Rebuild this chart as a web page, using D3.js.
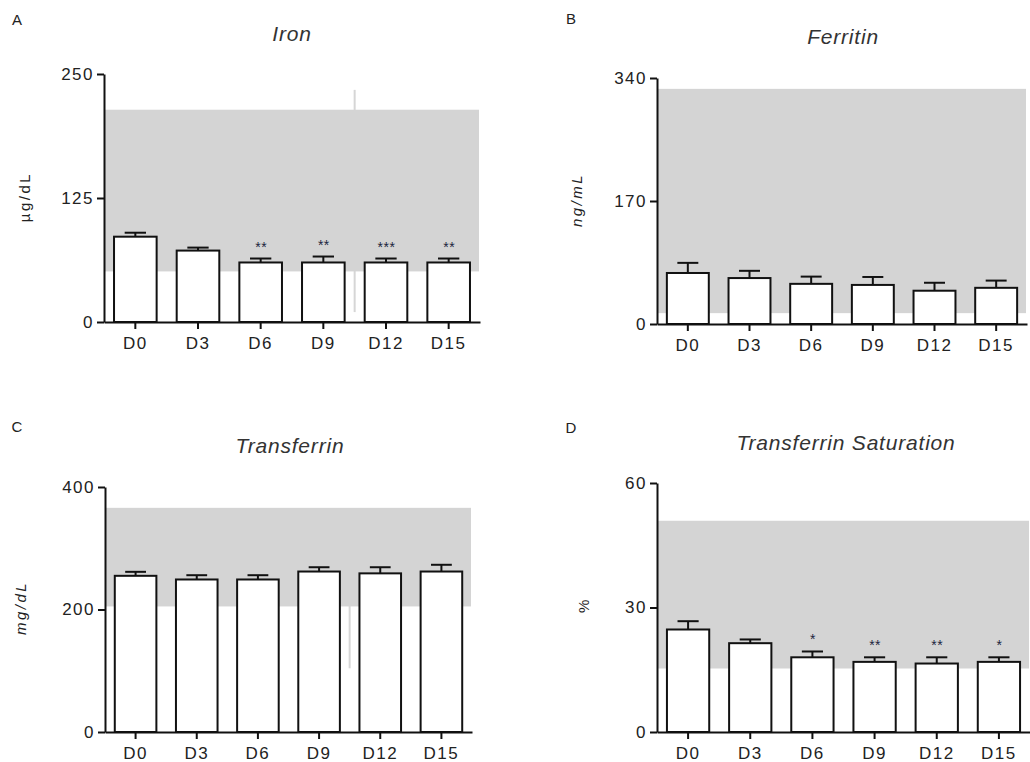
<!DOCTYPE html>
<html>
<head>
<meta charset="utf-8">
<script src="https://cdn.jsdelivr.net/npm/d3@7"></script>
<style>
  body { margin: 0; background: #fff; }
  svg { display: block; font-family: "Liberation Sans", Arial, sans-serif; }
  .tick text { fill: #222; }
</style>
</head>
<body>
<div id="chart"></div>
<script>
// categories (study days)
var days = ["D0", "D3", "D6", "D9", "D12", "D15"];

// A - Iron (µg/dL)
var ironMean = [86, 72, 60, 60, 60, 60];
var ironSem = [4, 3, 4, 6, 4, 4];
var ironRange = [51, 214];
var ironTicks = [0, 125, 250];
var ironStars = ["", "", "**", "**", "***", "**"];
var ironGap = [10, 234];

// B - Ferritin (ng/mL)
var ferMean = [70.5, 63.5, 55.5, 54, 46, 50];
var ferSem = [14, 10, 10, 11, 11, 10];
var ferRange = [15, 325];
var ferTicks = [0, 170, 340];
var ferStars = ["", "", "", "", "", ""];

// C - Transferrin (mg/dL)
var trfMean = [255, 249, 249, 262, 259, 262];
var trfSem = [6.5, 7, 7, 7, 10, 11];
var trfRange = [205, 366];
var trfTicks = [0, 200, 400];
var trfStars = ["", "", "", "", "", ""];
var trfGap = [104, 300];

// D - Transferrin saturation (%)
var tsatMean = [24.7, 21.4, 18.0, 16.9, 16.5, 16.9];
var tsatSem = [2.0, 0.9, 1.4, 1.1, 1.5, 1.1];
var tsatRange = [15.3, 50.9];
var tsatTicks = [0, 30, 60];
var tsatStars = ["", "", "*", "**", "**", "*"];

var svg = d3.select("#chart")
  .append("svg")
  .attr("width", 1030)
  .attr("height", 762);

var panels = [
  { letter: "A", title: "Iron", unit: "µg/dL", unitItalic: false,
    mean: ironMean, sem: ironSem, range: ironRange, ticks: ironTicks, stars: ironStars, gap: ironGap,
    x0: 104, x1: 480, yTop: 74, yBot: 322,
    titleXY: [292, 40.5], letterXY: [17, 24.5], unitXY: [24, 197] },
  { letter: "B", title: "Ferritin", unit: "ng/mL", unitItalic: true,
    mean: ferMean, sem: ferSem, range: ferRange, ticks: ferTicks, stars: ferStars, gap: null,
    x0: 657, x1: 1027, yTop: 78, yBot: 324,
    titleXY: [843, 44], letterXY: [571, 23.5], unitXY: [576, 200] },
  { letter: "C", title: "Transferrin", unit: "mg/dL", unitItalic: true,
    mean: trfMean, sem: trfSem, range: trfRange, ticks: trfTicks, stars: trfStars, gap: trfGap,
    x0: 105, x1: 472, yTop: 487, yBot: 732,
    titleXY: [290, 452.5], letterXY: [17, 432], unitXY: [20, 608] },
  { letter: "D", title: "Transferrin Saturation", unit: "%", unitItalic: false,
    mean: tsatMean, sem: tsatSem, range: tsatRange, ticks: tsatTicks, stars: tsatStars, gap: null,
    x0: 657, x1: 1030, yTop: 483, yBot: 732,
    titleXY: [846, 449.5], letterXY: [571, 433], unitXY: [583, 605] }
];

panels.forEach(function(p) {
  var g = svg.append("g");

  var x = d3.scaleBand()
    .domain(days)
    .range([p.x0, p.x1])
    .paddingInner(0.32)
    .paddingOuter(0.16);

  var y = d3.scaleLinear()
    .domain([0, p.ticks[p.ticks.length - 1]])
    .range([p.yBot, p.yTop]);

  // stray light grey line from the original export
  if (p.gap) {
    var gx = (x("D9") + x("D12") + x.bandwidth()) / 2;
    g.append("line")
      .attr("x1", gx).attr("x2", gx)
      .attr("y1", y(p.gap[0])).attr("y2", y(p.gap[1]))
      .attr("stroke", "#d6d6d6")
      .attr("stroke-width", 2);
  }

  // normal range band
  g.append("rect")
    .attr("x", p.x0 + 1)
    .attr("width", p.x1 - p.x0 - 2)
    .attr("y", y(p.range[1]))
    .attr("height", y(p.range[0]) - y(p.range[1]))
    .attr("fill", "#d4d4d4");

  // bars
  g.selectAll(".bar")
    .data(days)
    .enter()
    .append("rect")
    .attr("class", "bar")
    .attr("x", function(d) { return x(d); })
    .attr("width", x.bandwidth())
    .attr("y", function(d, i) { return y(p.mean[i]); })
    .attr("height", function(d, i) { return p.yBot - y(p.mean[i]); })
    .attr("fill", "#fff")
    .attr("stroke", "#111")
    .attr("stroke-width", 2);

  // upper error bars
  var cap = x.bandwidth() * 0.5;
  var err = g.selectAll(".err")
    .data(days)
    .enter()
    .append("g")
    .attr("class", "err");

  err.append("line")
    .attr("x1", function(d) { return x(d) + x.bandwidth() / 2; })
    .attr("x2", function(d) { return x(d) + x.bandwidth() / 2; })
    .attr("y1", function(d, i) { return y(p.mean[i]); })
    .attr("y2", function(d, i) { return y(p.mean[i] + p.sem[i]); })
    .attr("stroke", "#111")
    .attr("stroke-width", 2);

  err.append("line")
    .attr("x1", function(d) { return x(d) + x.bandwidth() / 2 - cap / 2; })
    .attr("x2", function(d) { return x(d) + x.bandwidth() / 2 + cap / 2; })
    .attr("y1", function(d, i) { return y(p.mean[i] + p.sem[i]); })
    .attr("y2", function(d, i) { return y(p.mean[i] + p.sem[i]); })
    .attr("stroke", "#111")
    .attr("stroke-width", 2);

  // significance stars
  g.selectAll(".star")
    .data(days)
    .enter()
    .append("text")
    .attr("class", "star")
    .attr("x", function(d) { return x(d) + x.bandwidth() / 2 + 0.5; })
    .attr("y", function(d, i) { return y(p.mean[i] + p.sem[i]) - 7; })
    .attr("text-anchor", "middle")
    .attr("font-size", "14px")
    .attr("letter-spacing", "0.5px")
    .attr("fill", "#1c2440")
    .text(function(d, i) { return p.stars[i]; });

  // axes
  var yAxis = g.append("g")
    .attr("transform", "translate(" + p.x0 + ",0)")
    .call(d3.axisLeft(y).tickValues(p.ticks).tickSize(7).tickSizeOuter(0).tickPadding(3));

  var xAxis = g.append("g")
    .attr("transform", "translate(0," + p.yBot + ")")
    .call(d3.axisBottom(x).tickSize(7).tickSizeOuter(0).tickPadding(8));

  [xAxis, yAxis].forEach(function(a) {
    a.select(".domain").attr("stroke", "#111").attr("stroke-width", 2);
    a.selectAll(".tick line").attr("stroke", "#111").attr("stroke-width", 2);
    a.selectAll(".tick text")
      .attr("font-size", "17px")
      .attr("letter-spacing", "1.5px")
      .attr("font-family", "Liberation Sans, Arial, sans-serif");
  });

  // title
  g.append("text")
    .attr("x", p.titleXY[0])
    .attr("y", p.titleXY[1])
    .attr("text-anchor", "middle")
    .attr("font-size", "21px")
    .attr("font-style", "italic")
    .attr("letter-spacing", "0.8px")
    .attr("fill", "#333")
    .text(p.title);

  // panel letter
  g.append("text")
    .attr("x", p.letterXY[0])
    .attr("y", p.letterXY[1])
    .attr("text-anchor", "middle")
    .attr("font-size", "15px")
    .attr("fill", "#222")
    .text(p.letter);

  // unit label
  g.append("text")
    .attr("transform", "translate(" + p.unitXY[0] + "," + p.unitXY[1] + ") rotate(-90)")
    .attr("text-anchor", "middle")
    .attr("dominant-baseline", "central")
    .attr("font-size", "15px")
    .attr("letter-spacing", "2.5px")
    .attr("font-style", p.unitItalic ? "italic" : "normal")
    .attr("fill", "#222")
    .text(p.unit);
});
</script>
</body>
</html>
